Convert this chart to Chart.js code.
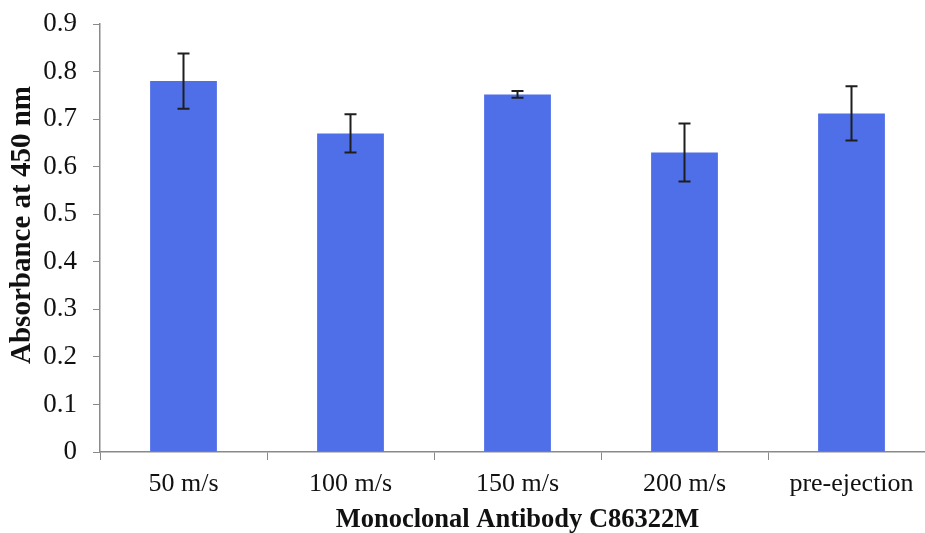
<!DOCTYPE html>
<html>
<head>
<meta charset="utf-8">
<script src="https://cdn.jsdelivr.net/npm/chart.js@4"></script>
<style>
  html, body { margin: 0; padding: 0; background: #fff; overflow: hidden; }
  #wrap { width: 940px; height: 533px; }
</style>
</head>
<body>
<div id="wrap"><canvas id="absChart" width="940" height="533"></canvas></div>
<script>
var categories = ['50 m/s', '100 m/s', '150 m/s', '200 m/s', 'pre-ejection'];
var absorbance = [0.780, 0.670, 0.752, 0.630, 0.712];
var stdError = [0.058, 0.040, 0.007, 0.061, 0.057];
var yTicks = [0, 0.1, 0.2, 0.3, 0.4, 0.5, 0.6, 0.7, 0.8, 0.9];
var yTitle = 'Absorbance at 450 nm';
var xTitle = 'Monoclonal Antibody C86322M';

var serif = '"Liberation Serif", "Times New Roman", serif';
var axisGray = '#8a8a8a';

// draws the +/- error whiskers on top of each bar
var errorBars = {
    id: 'errorBars',
    afterDatasetsDraw: function (c) {
        var ctx = c.ctx;
        var y = c.scales.y;
        var meta = c.getDatasetMeta(0);
        ctx.save();
        ctx.strokeStyle = '#1e1e1e';
        ctx.lineWidth = 2;
        meta.data.forEach(function (bar, i) {
            var top = y.getPixelForValue(absorbance[i] + stdError[i]);
            var bottom = y.getPixelForValue(absorbance[i] - stdError[i]);
            ctx.beginPath();
            ctx.moveTo(bar.x, top);
            ctx.lineTo(bar.x, bottom);
            ctx.moveTo(bar.x - 6, top);
            ctx.lineTo(bar.x + 6, top);
            ctx.moveTo(bar.x - 6, bottom);
            ctx.lineTo(bar.x + 6, bottom);
            ctx.stroke();
        });
        ctx.restore();
    }
};

// vertical axis title, sitting a little above the middle of the axis
var yAxisTitle = {
    id: 'yAxisTitle',
    afterDraw: function (c) {
        var ctx = c.ctx;
        var area = c.chartArea;
        ctx.save();
        ctx.translate(23, (area.top + area.bottom) / 2 - 13);
        ctx.rotate(-Math.PI / 2);
        ctx.font = 'bold 29px ' + serif;
        ctx.fillStyle = '#111';
        ctx.textAlign = 'center';
        ctx.textBaseline = 'middle';
        ctx.fillText(yTitle, 0, 0);
        ctx.restore();
    }
};

new Chart(document.getElementById('absChart').getContext('2d'), {
    type: 'bar',
    data: {
        labels: categories,
        datasets: [{
            data: absorbance,
            backgroundColor: '#4f6fe8',
            borderWidth: 0,
            barPercentage: 0.4,
            categoryPercentage: 1.0
        }]
    },
    options: {
        responsive: false,
        animation: false,
        devicePixelRatio: 1,
        layout: { padding: { top: 24, right: 5, bottom: 0, left: 0 } },
        plugins: { legend: { display: false }, tooltip: { enabled: false } },
        scales: {
            x: {
                afterFit: function (scale) { scale.height = 81; },
                grid: {
                    display: true,
                    drawOnChartArea: false,
                    drawTicks: true,
                    tickLength: 8,
                    color: axisGray,
                    offset: true
                },
                border: { display: true, color: axisGray, width: 1.5 },
                ticks: {
                    color: '#111',
                    padding: 9,
                    maxRotation: 0,
                    font: { family: serif, size: 26 }
                },
                title: {
                    display: true,
                    text: xTitle,
                    color: '#111',
                    padding: { top: 5, bottom: 0 },
                    font: { family: serif, size: 26.5, weight: 'bold', lineHeight: 1 }
                }
            },
            y: {
                min: 0,
                max: 0.9,
                afterFit: function (scale) {
                    scale.width = 100;
                    scale.paddingTop = 0;
                    scale.paddingBottom = 0;
                },
                afterBuildTicks: function (scale) {
                    scale.ticks = yTicks.map(function (v) { return { value: v }; });
                },
                grid: {
                    display: true,
                    drawOnChartArea: false,
                    drawTicks: true,
                    tickLength: 7,
                    color: axisGray
                },
                border: { display: true, color: axisGray, width: 1.5 },
                ticks: {
                    color: '#111',
                    padding: 16,
                    font: { family: serif, size: 27 },
                    callback: function (v) { return String(Math.round(v * 10) / 10); }
                },
                title: { display: false }
            }
        }
    },
    plugins: [errorBars, yAxisTitle]
});
</script>
</body>
</html>
